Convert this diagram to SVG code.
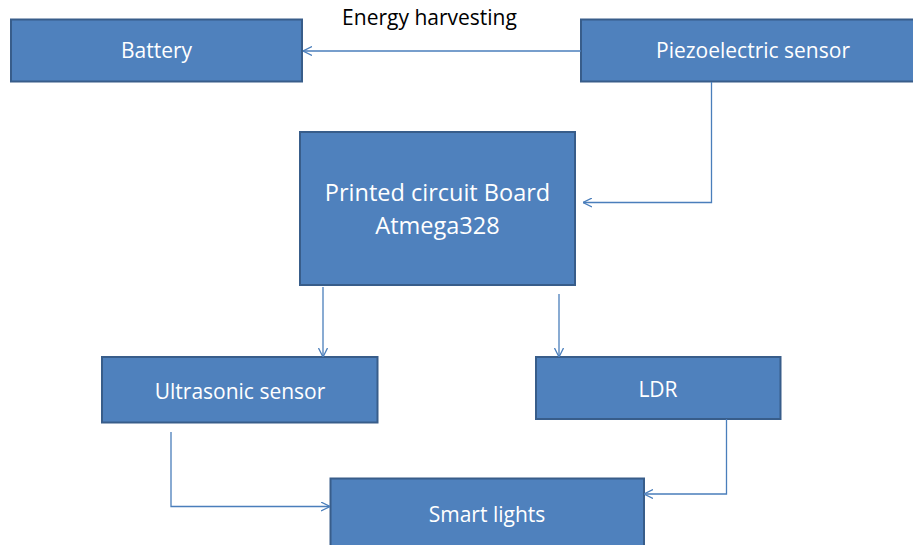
<svg xmlns="http://www.w3.org/2000/svg" width="913" height="545" viewBox="0 0 913 545">
  <style>
    .box { fill: #4f81bd; stroke: #385d8a; stroke-width: 2; }
    .lbl { font-family: "Open Sans", "Liberation Sans", sans-serif; font-size: 21px; fill: #ffffff; text-anchor: middle; }
    .big { font-size: 23.5px; }
    .note { font-family: "Open Sans", "Liberation Sans", sans-serif; font-size: 21px; fill: #000000; text-anchor: middle; }
    .conn { fill: none; stroke: #4a7ebb; stroke-width: 1.3; }
  </style>
  <defs>
    <marker id="arr" viewBox="0 0 10 10" refX="10" refY="5" markerWidth="9" markerHeight="10" orient="auto" markerUnits="userSpaceOnUse">
      <path d="M0,0 L10,5 L0,10" fill="none" stroke="#4a7ebb" stroke-width="1.4"/>
    </marker>
  </defs>
  <rect width="913" height="545" fill="#ffffff"/>

  <g id="battery">
    <rect class="box" x="11" y="19.5" width="291" height="62"/>
    <text class="lbl" x="156.5" y="58">Battery</text>
  </g>
  <g id="piezo">
    <rect class="box" x="581" y="19.5" width="344" height="62"/>
    <text class="lbl" x="753" y="57.5">Piezoelectric sensor</text>
  </g>
  <g id="pcb">
    <rect class="box" x="300" y="132" width="275" height="153"/>
    <text class="lbl big" x="437.5" y="200.5">Printed circuit Board</text>
    <text class="lbl big" x="437.5" y="234">Atmega328</text>
  </g>
  <g id="ultrasonic">
    <rect class="box" x="102" y="357" width="275.5" height="65.5"/>
    <text class="lbl" x="240" y="399">Ultrasonic sensor</text>
  </g>
  <g id="ldr">
    <rect class="box" x="536" y="357" width="244.5" height="62"/>
    <text class="lbl" x="658" y="396.5">LDR</text>
  </g>
  <g id="smart-lights">
    <rect class="box" x="330.5" y="478.5" width="313.5" height="80"/>
    <text class="lbl" x="487" y="521.5">Smart lights</text>
  </g>

  <g id="connectors">
    <path class="conn" d="M581,51 H303" marker-end="url(#arr)"/>
    <path class="conn" d="M711.5,82 V202.5 H583" marker-end="url(#arr)"/>
    <path class="conn" d="M323,287 V357" marker-end="url(#arr)"/>
    <path class="conn" d="M559,294 V357" marker-end="url(#arr)"/>
    <path class="conn" d="M171,432 V506.5 H330" marker-end="url(#arr)"/>
    <path class="conn" d="M726.5,419 V494 H644" marker-end="url(#arr)"/>
  </g>

  <text class="note" x="429.5" y="25">Energy harvesting</text>
</svg>
